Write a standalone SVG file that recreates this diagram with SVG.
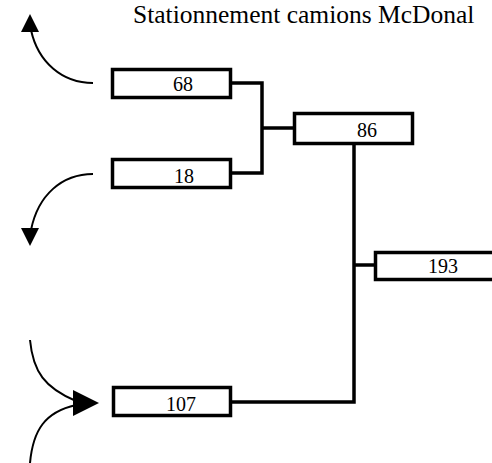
<svg xmlns="http://www.w3.org/2000/svg" width="492" height="463" viewBox="0 0 492 463">
<defs>
<style>
.box{fill:#fff;stroke:#000;stroke-width:3.5}
.num{font-family:"Liberation Serif","Times New Roman",serif;font-size:20px;fill:#000;text-anchor:middle}
.title{font-family:"Liberation Serif","Times New Roman",serif;font-size:25.5px;fill:#000}
.conn{fill:none;stroke:#000;stroke-width:3.5}
.curve{fill:none;stroke:#000;stroke-width:2}
.head{fill:#000}
</style>
</defs>
<rect width="492" height="463" fill="#fff"/>
<text class="title" x="133" y="23">Stationnement camions McDonal</text>
<g id="connectors">
<polyline class="conn" points="232,83 262,83 262,173 232,173"/>
<line class="conn" x1="262" y1="128" x2="294" y2="128"/>
<polyline class="conn" points="354,145 354,402 232,402"/>
<line class="conn" x1="354" y1="265" x2="375" y2="265"/>
<path class="curve" d="M93,83 C62,83 38,62 31,30"/>
<polygon class="head" points="30,14 21,32 39,32"/>
<path class="curve" d="M93,174 C62,174 38,195 31,230"/>
<polygon class="head" points="30,246 21,228 39,228"/>
<path class="curve" d="M30,340 C33,372 45,388 76,401"/>
<path class="curve" d="M30,463 C33,430 45,412 76,405"/>
<polygon class="head" points="73,390 99,403 73,416"/>
</g>
<g id="n68"><rect class="box" x="112.5" y="69.5" width="118" height="28"/><text class="num" x="183" y="91">68</text></g>
<g id="n18"><rect class="box" x="112.5" y="159.5" width="118" height="28"/><text class="num" x="184" y="183">18</text></g>
<g id="n86"><rect class="box" x="294.5" y="113.5" width="118" height="30"/><text class="num" x="367" y="137">86</text></g>
<g id="n193"><rect class="box" x="375.5" y="252.5" width="120" height="27"/><text class="num" x="443" y="273">193</text></g>
<g id="n107"><rect class="box" x="113.5" y="387.5" width="117" height="28"/><text class="num" x="181" y="411">107</text></g>
</svg>
